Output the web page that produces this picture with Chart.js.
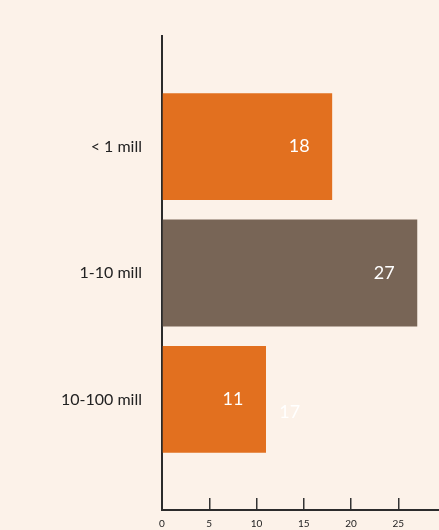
<!DOCTYPE html>
<html>
<head>
<meta charset="utf-8">
<script src="https://cdn.jsdelivr.net/npm/chart.js@4"></script>
<style>
  html, body { margin: 0; padding: 0; background: #fcf2e9; }
  #wrap { width: 439px; height: 530px; position: relative; }
</style>
</head>
<body>
<div id="wrap"><canvas id="chart"></canvas></div>
<script>
// chart data
const categories = ['< 1 mill', '1-10 mill', '10-100 mill'];
const values = [18, 27, 11];
const barColors = ['#e2701f', '#786556', '#e2701f'];
// faint extra label sitting next to the last bar
const ghostValues = [null, null, 17];
const xTicks = [0, 5, 10, 15, 20, 25];

const mainData = values.map((v, i) => ({ x: v, y: i }));
const ghostData = ghostValues
    .map((v, i) => ({ x: v, y: i }))
    .filter(d => d.x !== null);

/**
 * Write the value inside each bar, near its end
 */
const valueLabels = {
    id: 'valueLabels',
    afterDatasetsDraw(chart) {
        const ctx = chart.ctx;
        ctx.save();
        ctx.textAlign = 'center';
        ctx.textBaseline = 'middle';
        chart.data.datasets.forEach((ds, di) => {
            const meta = chart.getDatasetMeta(di);
            ctx.fillStyle = ds.labelColor;
            ctx.font = '18px Lato, "Noto Sans", sans-serif';
            meta.data.forEach((bar, i) => {
                ctx.fillText(String(ds.data[i].x), bar.x - 33, bar.y + (ds.labelShift || 0));
            });
        });
        ctx.restore();
    }
};

new Chart(document.getElementById('chart'), {
    type: 'bar',
    data: {
        datasets: [{
            data: mainData,
            backgroundColor: barColors,
            borderWidth: 0,
            grouped: false,
            labelColor: '#ffffff'
        }, {
            data: ghostData,
            backgroundColor: 'rgba(0,0,0,0)',
            borderWidth: 0,
            grouped: false,
            labelColor: 'rgba(255,255,255,0.95)',
            labelShift: 13
        }]
    },
    plugins: [valueLabels],
    options: {
        indexAxis: 'y',
        responsive: true,
        maintainAspectRatio: false,
        animation: false,
        layout: { padding: { top: 36, right: 0, bottom: 0, left: 0 } },
        categoryPercentage: 1,
        barPercentage: 0.846,
        plugins: {
            legend: { display: false },
            tooltip: { enabled: false }
        },
        scales: {
            x: {
                type: 'linear',
                position: 'bottom',
                min: 0,
                max: 29.3,
                offset: false,
                afterBuildTicks: scale => {
                    scale.ticks = xTicks.map(v => ({ value: v }));
                },
                afterFit: scale => { scale.height = 20; },
                grid: {
                    drawOnChartArea: false,
                    tickLength: -12,
                    color: '#333',
                    lineWidth: 1.5,
                    offset: false
                },
                border: { color: '#2b2b2b', width: 2 },
                ticks: {
                    padding: 20,
                    color: '#222',
                    font: { family: 'Lato, "Noto Sans", sans-serif', size: 10 }
                }
            },
            y: {
                type: 'linear',
                reverse: true,
                min: -0.875,
                max: 2.875,
                offset: false,
                afterBuildTicks: scale => {
                    scale.ticks = categories.map((c, i) => ({ value: i }));
                },
                afterFit: scale => {
                    scale.width = 162;
                    // labels sit well inside the axis, no extra room needed
                    scale.paddingTop = 0;
                    scale.paddingBottom = 0;
                },
                grid: { display: true, drawOnChartArea: false, drawTicks: false, offset: false },
                border: { color: '#2b2b2b', width: 2 },
                ticks: {
                    padding: 20,
                    color: '#222',
                    font: { family: 'Lato, "Noto Sans", sans-serif', size: 16 },
                    callback: v => categories[v]
                }
            }
        }
    }
});
</script>
</body>
</html>
